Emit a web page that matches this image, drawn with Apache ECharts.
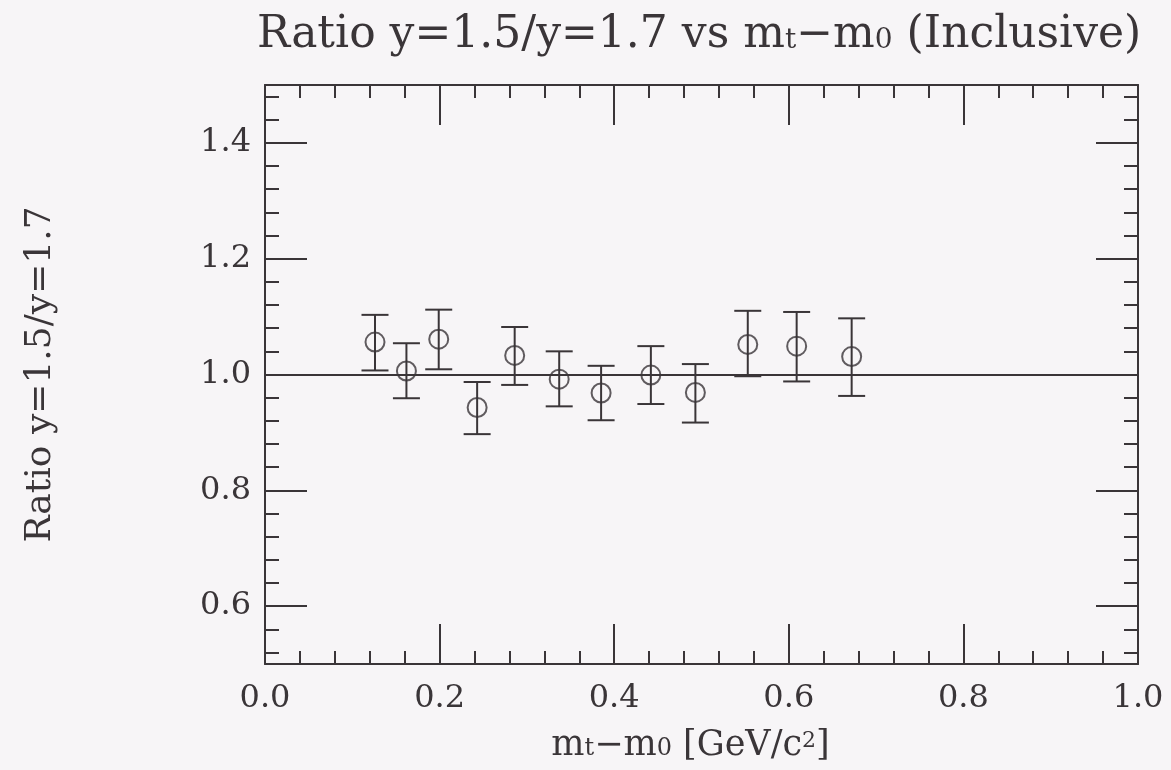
<!DOCTYPE html>
<html>
<head>
<meta charset="utf-8">
<title>Ratio y=1.5/y=1.7 vs mt-m0</title>
<script src="https://cdn.jsdelivr.net/npm/echarts@6/dist/echarts.min.js"></script>
<style>
  html, body { margin: 0; padding: 0; background: #f7f5f7; }
  #chart { width: 1171px; height: 770px; }
</style>
</head>
<body>
<div id="chart"></div>
<script>
// values
const xValues = [0.126, 0.162, 0.199, 0.243, 0.286, 0.337, 0.385, 0.442, 0.493, 0.553, 0.609, 0.672];
const ratio   = [1.056, 1.006, 1.061, 0.943, 1.033, 0.992, 0.968, 0.999, 0.969, 1.052, 1.049, 1.031];
const errHigh = [1.103, 1.054, 1.112, 0.987, 1.082, 1.040, 1.015, 1.049, 1.018, 1.110, 1.108, 1.097];
const errLow  = [1.007, 0.959, 1.009, 0.897, 0.982, 0.945, 0.921, 0.949, 0.917, 0.997, 0.988, 0.963];
const refLine = 1.0;

// y tick positions
const yMajorTicks = [0.6, 0.8, 1.0, 1.2, 1.4];
const yMinorTicks = [0.52, 0.56, 0.64, 0.68, 0.72, 0.76, 0.84, 0.88, 0.92, 0.96,
                     1.04, 1.08, 1.12, 1.16, 1.24, 1.28, 1.32, 1.36, 1.44, 1.48];

const ink = '#3a3538';
const font = 'DejaVu Serif';

var chartDom = document.getElementById('chart');
var myChart = echarts.init(chartDom);

function xAxisCfg(pos, withLabels) {
  return {
    type: 'value',
    position: pos,
    min: 0,
    max: 1,
    interval: 0.2,
    axisLine: { show: true, lineStyle: { color: ink, width: 2 } },
    axisTick: { show: true, inside: true, length: 40, lineStyle: { color: ink, width: 2 } },
    minorTick: { show: true, splitNumber: 5, length: 13, lineStyle: { color: ink, width: 2 } },
    splitLine: { show: false },
    minorSplitLine: { show: false },
    axisLabel: {
      show: withLabels,
      margin: 19,
      fontFamily: font,
      fontSize: 32,
      color: ink,
      formatter: v => v.toFixed(1)
    }
  };
}

function yAxisCfg(pos, ticks, len, withLine, withLabels) {
  return {
    type: 'value',
    position: pos,
    offset: 0,
    min: 0.5,
    max: 1.5,
    axisLine: { show: withLine, lineStyle: { color: ink, width: 2 } },
    axisTick: { show: true, inside: true, length: len, customValues: ticks, lineStyle: { color: ink, width: 2 } },
    splitLine: { show: false },
    axisLabel: {
      show: withLabels,
      customValues: yMajorTicks,
      margin: 14,
      fontFamily: font,
      fontSize: 32,
      color: ink,
      formatter: v => v.toFixed(1)
    }
  };
}

const xMain = xAxisCfg('bottom', true);
xMain.name = 'm{s|t}−m{s|0} [GeV/c{p|2}]';
xMain.nameLocation = 'middle';
xMain.nameGap = 64;
xMain.nameTextStyle = {
  fontFamily: font, fontSize: 35, color: ink, padding: [0, 22, 0, 0],
  rich: {
    s: { fontFamily: font, fontSize: 24, color: ink, verticalAlign: 'bottom', padding: [0, 0, 2, 0] },
    p: { fontFamily: font, fontSize: 22, color: ink, verticalAlign: 'top', padding: [2, 0, 0, 0] }
  }
};

const yMain = yAxisCfg('left', yMajorTicks, 42, true, true);
yMain.name = 'Ratio y=1.5/y=1.7';
yMain.nameLocation = 'middle';
yMain.nameGap = 206;
yMain.nameTextStyle = { fontFamily: font, fontSize: 36, color: ink };

var option = {
  backgroundColor: '#f7f5f7',
  animation: false,
  title: {
    text: 'Ratio y=1.5/y=1.7 vs m{s|t}−m{s|0} (Inclusive)',
    left: 252,
    top: 9,
    textStyle: {
      fontFamily: font,
      fontSize: 44,
      fontWeight: 'normal',
      color: ink,
      rich: { s: { fontFamily: font, fontSize: 28, color: ink, verticalAlign: 'bottom', padding: [0, 0, 3, 0] } }
    }
  },
  grid: {
    left: 265,
    right: 33,
    top: 85,
    bottom: 106,
    outerBoundsMode: 'none'
  },
  xAxis: [xMain, xAxisCfg('top', false)],
  yAxis: [
    yMain,
    yAxisCfg('left', yMinorTicks, 14, false, false),
    yAxisCfg('right', yMajorTicks, 42, true, false),
    yAxisCfg('right', yMinorTicks, 14, false, false)
  ],
  series: [
    {
      name: 'error',
      type: 'custom',
      xAxisIndex: 0,
      yAxisIndex: 0,
      silent: true,
      data: xValues.map((x, i) => [x, errLow[i], errHigh[i]]),
      encode: { x: 0, y: [1, 2] },
      renderItem: function (params, api) {
        const x = api.value(0);
        const lo = api.coord([x, api.value(1)]);
        const hi = api.coord([x, api.value(2)]);
        const hw = 13.5;
        const style = { stroke: ink, lineWidth: 2 };
        return {
          type: 'group',
          children: [
            { type: 'line', shape: { x1: lo[0], y1: lo[1], x2: hi[0], y2: hi[1] }, style: style },
            { type: 'line', shape: { x1: lo[0] - hw, y1: lo[1], x2: lo[0] + hw, y2: lo[1] }, style: style },
            { type: 'line', shape: { x1: hi[0] - hw, y1: hi[1], x2: hi[0] + hw, y2: hi[1] }, style: style }
          ]
        };
      }
    },
    {
      name: 'ratio',
      type: 'scatter',
      xAxisIndex: 0,
      yAxisIndex: 0,
      symbol: 'circle',
      symbolSize: 19,
      itemStyle: { color: 'rgba(0,0,0,0)', borderColor: ink, borderWidth: 2 },
      data: xValues.map((x, i) => [x, ratio[i]]),
      markLine: {
        silent: true,
        symbol: ['none', 'none'],
        label: { show: false },
        lineStyle: { type: 'solid', color: ink, width: 2 },
        data: [{ yAxis: refLine }]
      }
    }
  ]
};

myChart.setOption(option);
</script>
</body>
</html>
